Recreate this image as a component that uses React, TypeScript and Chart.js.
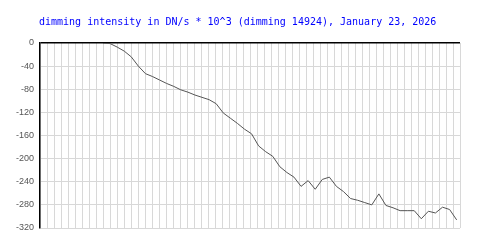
import React, { useEffect, useRef } from "react";
import { Chart, registerables } from "chart.js";

Chart.register(...registerables);

const titleText = "dimming intensity in DN/s * 10^3 (dimming 14924), January 23, 2026";
const yTicks = [0, -40, -80, -120, -160, -200, -240, -280, -320];
const dimming = [
  0, -1, -7, -14, -24, -40, -53, -58, -64, -70,
  -75, -81, -85, -90, -94, -98, -105, -121, -130, -139,
  -149, -157, -178, -188, -196, -214, -224, -232, -248, -238,
  -253, -236, -232, -248, -257, -269, -272, -276, -280, -261,
  -281, -285, -290, -290, -290, -304, -291, -294, -284, -288,
  -306,
];

export default function App() {
  const ref = useRef<HTMLCanvasElement | null>(null);
  useEffect(() => {
    document.body.style.margin = "0";
    const canvas = ref.current!;
    const titlePlugin = {
      id: "titleText",
      afterDraw(chart: any) {
        const c = chart.ctx;
        c.save();
        c.font = "10px 'DejaVu Sans Mono'";
        c.fillStyle = "#0000ff";
        c.textAlign = "left";
        c.textBaseline = "middle";
        c.fillText(titleText, 39, 22);
        c.restore();
      },
    };
    const chart = new Chart(canvas, {
      type: "line",
      data: {
        datasets: [
          {
            data: dimming.map((v, i) => ({ x: i, y: v })),
            borderColor: "#555555",
            borderWidth: 1,
            pointRadius: 0,
            fill: false,
            tension: 0,
            xAxisID: "x",
          },
        ],
      },
      options: {
        animation: false,
        responsive: false,
        layout: { padding: { top: 43, bottom: 22, right: 40, left: 0 } },
        plugins: { legend: { display: false }, tooltip: { enabled: false }, title: { display: false } },
        scales: {
          x: {
            type: "linear",
            min: -8.906,
            max: 50.47,
            display: false,
          },
          xg: {
            type: "linear",
            position: "bottom",
            min: 0,
            max: 60,
            ticks: { display: false, stepSize: 1 },
            grid: { color: "#d8d8d8", drawTicks: false, lineWidth: 1 },
            border: { display: false },
            afterFit(s: any) { s.height = 0; },
          },
          y: {
            type: "linear",
            min: -320,
            max: 0,
            afterBuildTicks(s: any) { s.ticks = yTicks.map((v) => ({ value: v })); },
            ticks: {
              color: "#555555",
              font: { family: "'Liberation Sans'", size: 9 },
              padding: 6,
            },
            grid: {
              drawTicks: false,
              color: (ctx: any) => (ctx.tick && ctx.tick.value === 0 ? "#000000" : "#d8d8d8"),
              lineWidth: (ctx: any) => (ctx.tick && ctx.tick.value === 0 ? 1.5 : 1),
            },
            border: { color: "#000000", width: 1.5 },
            afterFit(s: any) { s.width = 40; },
          },
        },
      },
      plugins: [titlePlugin],
    });
    return () => chart.destroy();
  }, []);
  return <canvas ref={ref} width={500} height={250} style={{ display: "block" }} />;
}
